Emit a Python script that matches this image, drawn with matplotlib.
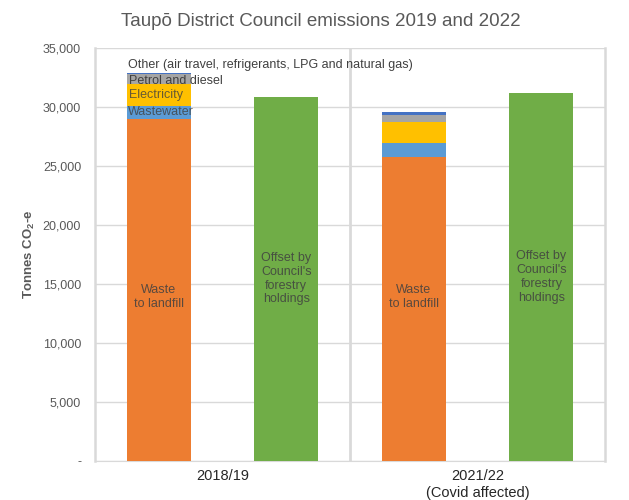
import numpy as np
import matplotlib
matplotlib.use("Agg")
import matplotlib.pyplot as plt

plt.rcParams["font.family"] = ["Liberation Sans", "DejaVu Sans"]
plt.rcParams["mathtext.fontset"] = "custom"
plt.rcParams["mathtext.rm"] = "Liberation Sans"
plt.rcParams["mathtext.bf"] = "Liberation Sans:bold"

# data (tonnes CO2-e)
periods = ["2018/19", "2021/22\n(Covid affected)"]
waste_landfill = [28980, 25740]
wastewater = [1150, 1240]
electricity = [1840, 1780]
petrol_diesel = [850, 570]
other = [80, 230]
offset_forestry = [30900, 31200]

series_names = ["Wastewater", "Electricity", "Petrol and diesel",
                "Other (air travel, refrigerants, LPG and natural gas)"]
stack_series = [wastewater, electricity, petrol_diesel, other]
stack_colors = ["#5B9BD5", "#FFC000", "#A5A5A5", "#4472C4"]

fig = plt.figure(figsize=(6.29, 5.0), dpi=100)
ax = fig.add_axes([0.151, 0.078, 0.811, 0.8256])

x = np.arange(len(periods))
w = 0.25
x_em = x - 0.25
x_off = x + 0.25

# stacked emissions bars
ax.bar(x_em, waste_landfill, width=w, color="#ED7D31", zorder=3)
bottom = np.array(waste_landfill, dtype=float)
for vals, col in zip(stack_series, stack_colors):
    ax.bar(x_em, vals, width=w, bottom=bottom, color=col, zorder=3)
    bottom = bottom + np.array(vals)

# offset bars
ax.bar(x_off, offset_forestry, width=w, color="#70AD47", zorder=3)

lab_col = "#404040"
for i in range(len(periods)):
    ax.text(x_em[i], 13900, "Waste\nto landfill", ha="center", va="center",
            fontsize=9, color=lab_col, alpha=0.85, zorder=4, linespacing=1.2)
    ax.text(x_off[i], offset_forestry[i] / 2, "Offset by\nCouncil's\nforestry\nholdings",
            ha="center", va="center", fontsize=9, color=lab_col, alpha=0.85,
            zorder=4, linespacing=1.2)

# series name labels on first bar
left = x_em[0] - w / 2 + 0.005
b0 = waste_landfill[0]
ax.text(left, b0 + wastewater[0] / 2, series_names[0], ha="left", va="center",
        fontsize=9, color=lab_col, alpha=0.8, zorder=4)
b1 = b0 + wastewater[0]
ax.text(left + 0.005, b1 + electricity[0] / 2, series_names[1], ha="left", va="center",
        fontsize=9, color=lab_col, alpha=0.8, zorder=4)
b2 = b1 + electricity[0]
ax.text(left + 0.005, b2 + petrol_diesel[0] / 2 - 150, series_names[2], ha="left",
        va="center", fontsize=9, color=lab_col, zorder=4)
ax.text(left, 33600, series_names[3], ha="left", va="center",
        fontsize=9, color=lab_col, zorder=4)

ax.set_xlim(-0.5, 1.5)
ax.set_ylim(0, 35000)
yt = np.arange(0, 35001, 5000)
ax.set_yticks(yt)
ax.set_yticklabels(["-"] + [f"{v:,}" for v in yt[1:]])
ax.set_xticks(x)
ax.set_xticklabels(periods)
ax.tick_params(axis="y", length=0, pad=10, labelsize=9, labelcolor="#595959")
ax.tick_params(axis="x", length=0, pad=6, labelsize=10.5, labelcolor="#262626")

ax.grid(axis="y", color="#D9D9D9", linewidth=1, zorder=0)
ax.axvline(0.5, color="#D9D9D9", linewidth=2, zorder=1)
for s in ["left", "right"]:
    ax.spines[s].set_color("#D9D9D9")
    ax.spines[s].set_linewidth(1.8)
ax.spines["top"].set_visible(False)
ax.spines["bottom"].set_color("#D9D9D9")

ax.set_ylabel(r"Tonnes CO$_\mathbf{2}$-e", fontsize=9.5, fontweight="bold", color="#595959")
ax.yaxis.set_label_coords(-0.114, 0.5)

fig.text(0.51, 0.958, "Taupō District Council emissions 2019 and 2022",
         ha="center", va="center", fontsize=13.5, color="#595959")

fig.savefig("out.png", dpi=100)
